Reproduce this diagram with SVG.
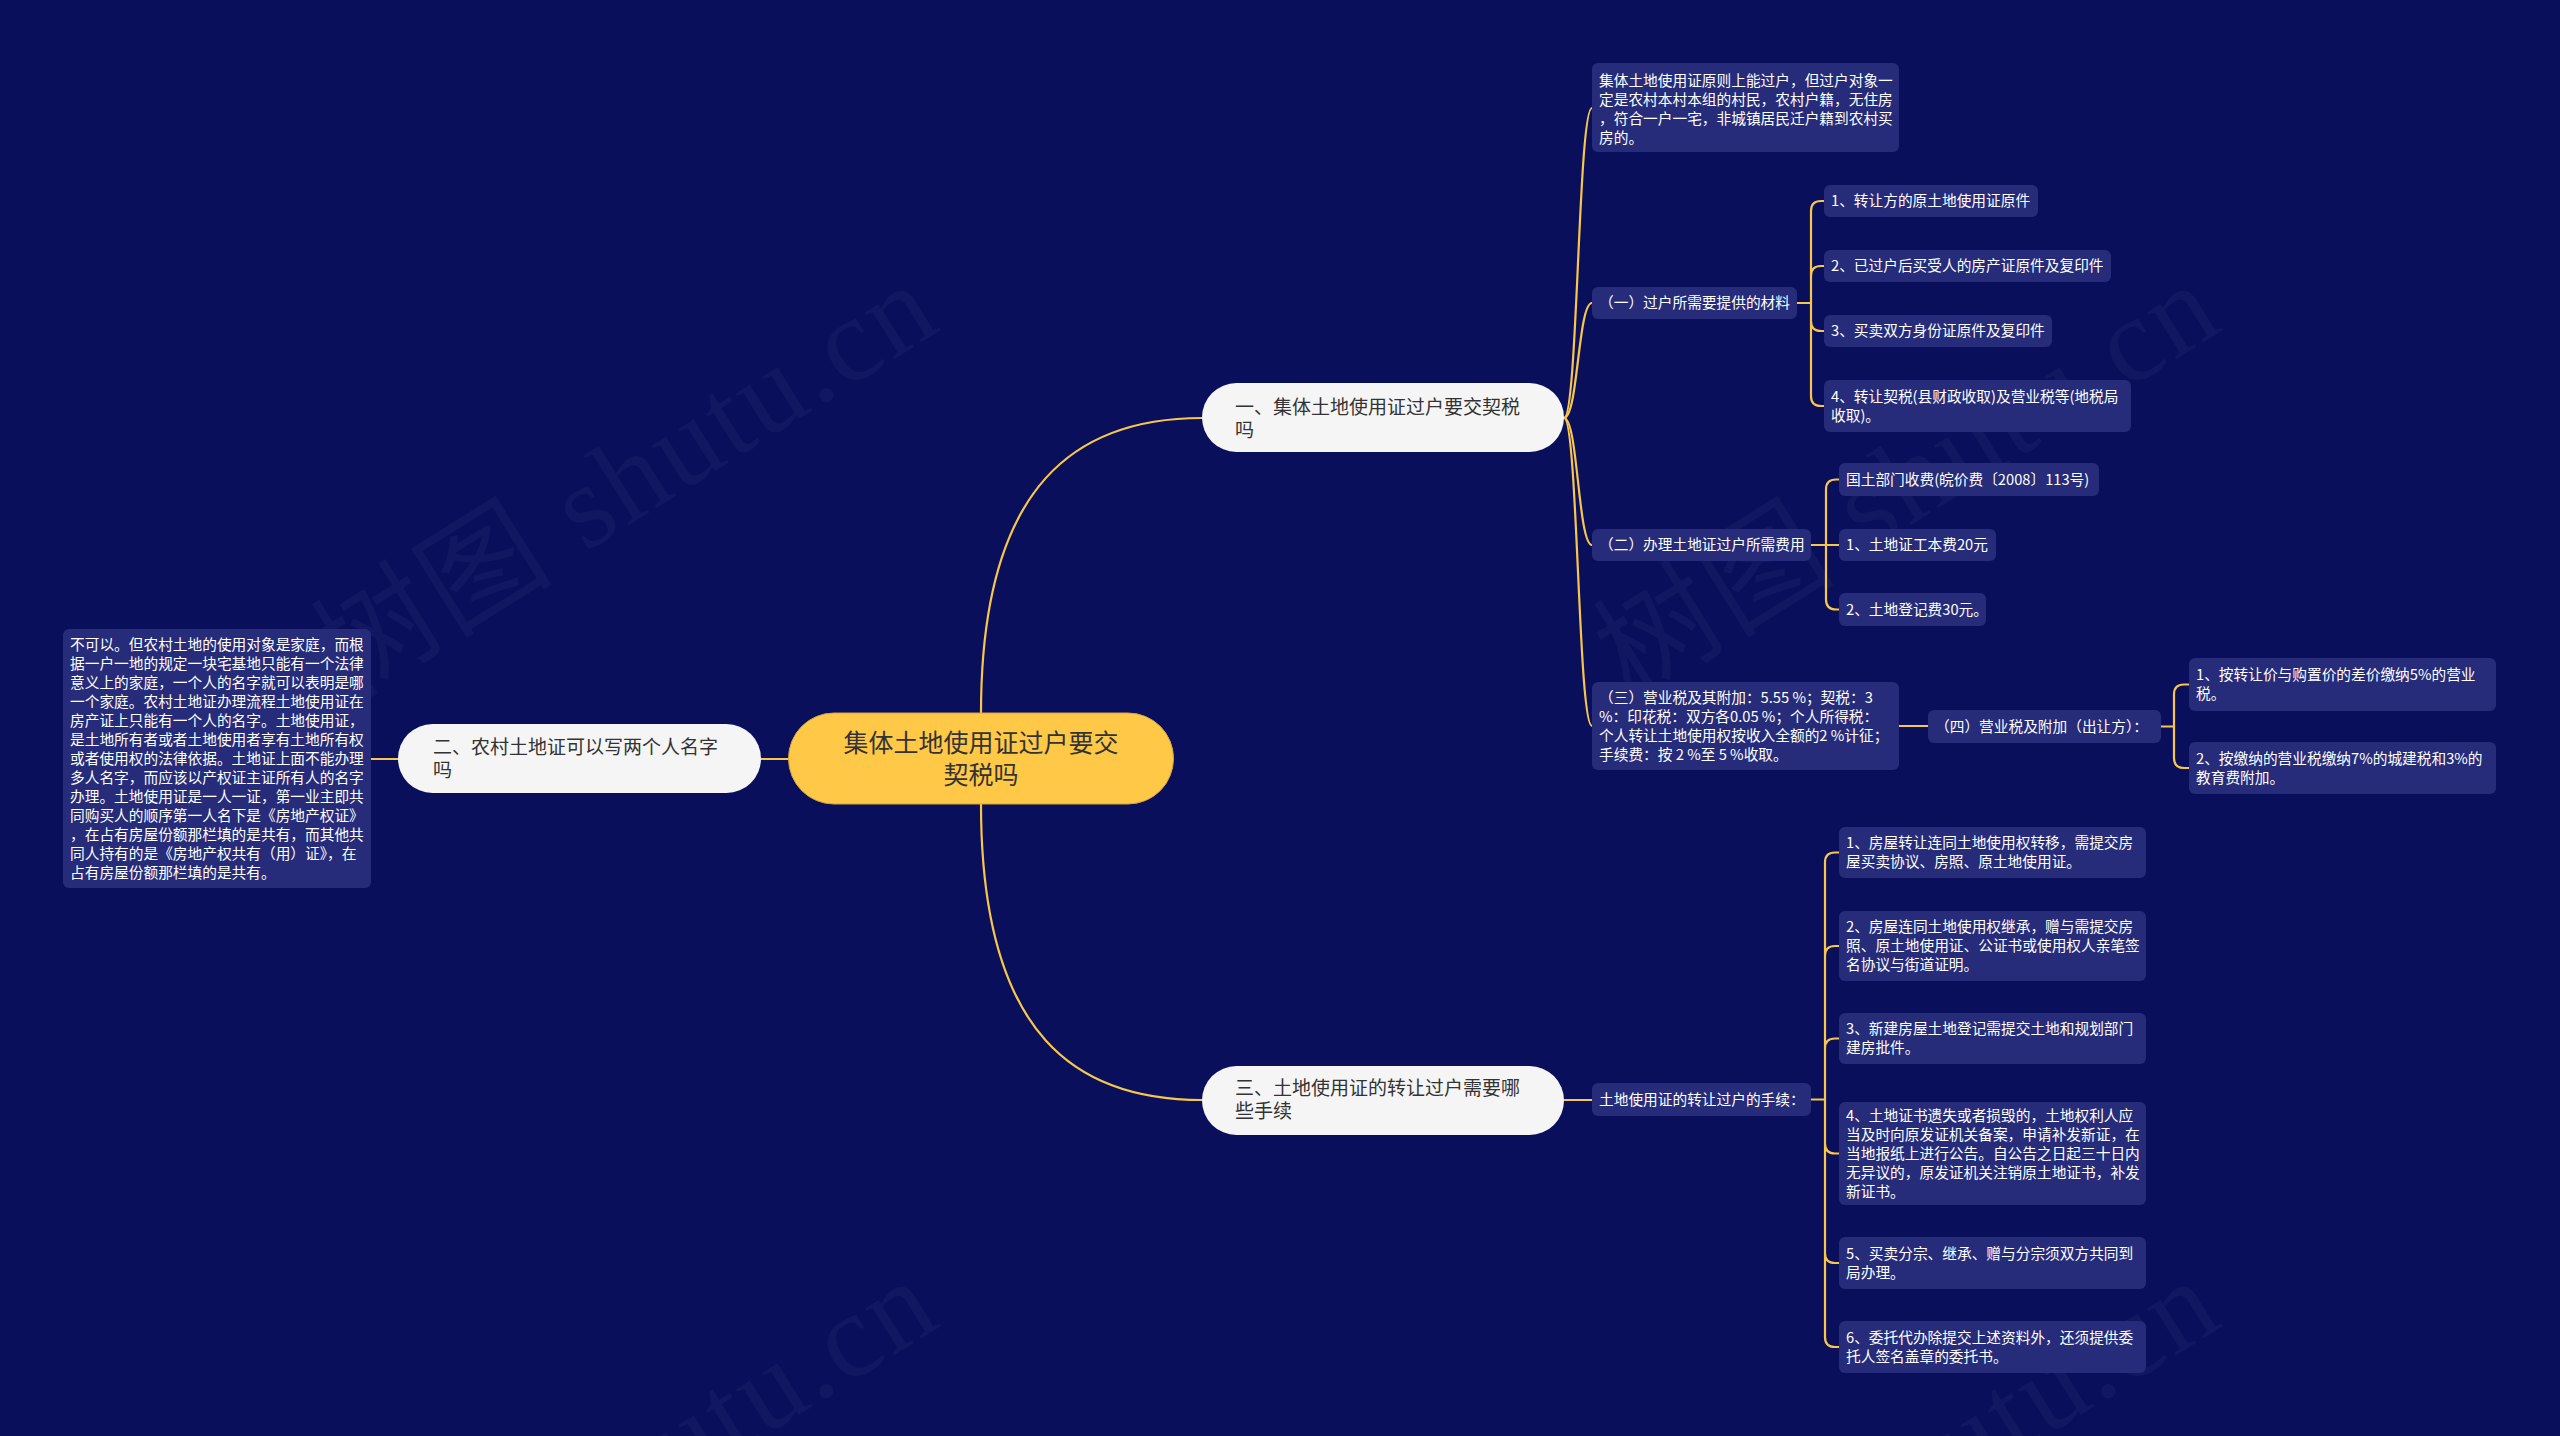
<svg xmlns="http://www.w3.org/2000/svg" width="2560" height="1436" viewBox="0 0 2560 1436">
<style>
.bg{fill:#0a0f5c}
.wm{font-family:"Liberation Serif","Noto Sans CJK SC",serif;font-size:120px;fill:#ffffff;fill-opacity:0.035}
.root rect{fill:#ffc847;stroke:#d9a63a;stroke-width:1}
.root text{font-family:"Noto Sans CJK SC","Noto Sans",sans-serif;font-size:25px;fill:#333333;text-anchor:middle}
.l1 rect{fill:#f5f5f5}
.l1 text{font-family:"Noto Sans CJK SC","Noto Sans",sans-serif;font-size:19px;fill:#333333}
.bx rect{fill:#262c7a}
.bx text{font-family:"Noto Sans CJK SC","Noto Sans",sans-serif;font-size:14.7px;fill:#ffffff}
.c path{fill:none;stroke:#f7c64c;stroke-width:2.2;stroke-linecap:round}
</style>
<rect class="bg" x="0" y="0" width="2560" height="1436"/>
<g id="watermarks">
<text class="wm" x="349" y="700" transform="rotate(-32 349 700)" textLength="700" lengthAdjust="spacing">树图 shutu.cn</text>
<text class="wm" x="1631" y="700" transform="rotate(-32 1631 700)" textLength="700" lengthAdjust="spacing">树图 shutu.cn</text>
<text class="wm" x="349" y="1696" transform="rotate(-32 349 1696)" textLength="700" lengthAdjust="spacing">树图 shutu.cn</text>
<text class="wm" x="1631" y="1696" transform="rotate(-32 1631 1696)" textLength="700" lengthAdjust="spacing">树图 shutu.cn</text>
</g>
<g id="connectors" class="c">
<path d="M981 713 C981 480 1080 418 1202 418"/>
<path d="M981 804 C981 1040 1080 1100 1202 1100"/>
<path d="M789 759 H761"/>
<path d="M398 759 H371"/>
<path d="M1564 418 C1578 418 1578 108 1592 108"/>
<path d="M1564 418 C1578 418 1578 303 1592 303"/>
<path d="M1564 418 C1578 418 1578 545 1592 545"/>
<path d="M1564 418 C1578 418 1578 726 1592 726"/>
<path d="M1797 303 H1811 M1811 303 V211 Q1811 201 1821 201 H1824 M1811 303 V276 Q1811 266 1821 266 H1824 M1811 303 V321 Q1811 331 1821 331 H1824 M1811 303 V396 Q1811 406 1821 406 H1824"/>
<path d="M1811 545 H1839 M1826 545 V489.5 Q1826 479.5 1836 479.5 H1839 M1826 545 V599.5 Q1826 609.5 1836 609.5 H1839"/>
<path d="M1899 726 H1928"/>
<path d="M2161 726.5 H2174 M2174 726.5 V694.5 Q2174 684.5 2184 684.5 H2189 M2174 726.5 V758 Q2174 768 2184 768 H2189"/>
<path d="M1564 1100 H1592"/>
<path d="M1811 1099.5 H1825 M1825 1099.5 V862.5 Q1825 852.5 1835 852.5 H1839 M1825 1099.5 V956 Q1825 946 1835 946 H1839 M1825 1099.5 V1048.5 Q1825 1038.5 1835 1038.5 H1839 M1825 1099.5 V1143.5 Q1825 1153.5 1835 1153.5 H1839 M1825 1099.5 V1253 Q1825 1263 1835 1263 H1839 M1825 1099.5 V1337 Q1825 1347 1835 1347 H1839"/>
</g>
<g id="root" class="root">
<rect x="788.5" y="713" width="385" height="91" rx="45.5"/>
<text x="981" y="752">集体土地使用证过户要交</text>
<text x="981" y="784">契税吗</text>
</g>
<g id="n1" class="l1">
<rect x="1202" y="383" width="362" height="69" rx="34.5"/>
<text x="1235" y="414">一、集体土地使用证过户要交契税</text>
<text x="1235" y="437">吗</text>
</g>
<g id="n2" class="l1">
<rect x="398" y="724" width="363" height="69" rx="34.5"/>
<text x="433" y="754">二、农村土地证可以写两个人名字</text>
<text x="433" y="777">吗</text>
</g>
<g id="n3" class="l1">
<rect x="1202" y="1066" width="362" height="69" rx="34.5"/>
<text x="1235" y="1095">三、土地使用证的转让过户需要哪</text>
<text x="1235" y="1118">些手续</text>
</g>
<g id="n1a" class="bx">
<rect x="1592" y="63" width="307" height="89" rx="6"/>
<text x="1599" y="86">集体土地使用证原则上能过户，但过户对象一</text>
<text x="1599" y="105">定是农村本村本组的村民，农村户籍，无住房</text>
<text x="1599" y="124">，符合一户一宅，非城镇居民迁户籍到农村买</text>
<text x="1599" y="143">房的。</text>
</g>
<g id="n1b" class="bx">
<rect x="1592" y="287" width="205" height="32" rx="6"/>
<text x="1599" y="308">（一）过户所需要提供的材料</text>
</g>
<g id="n1b1" class="bx">
<rect x="1824" y="185" width="214" height="32" rx="6"/>
<text x="1831" y="206">1、转让方的原土地使用证原件</text>
</g>
<g id="n1b2" class="bx">
<rect x="1824" y="250" width="287" height="32" rx="6"/>
<text x="1831" y="271">2、已过户后买受人的房产证原件及复印件</text>
</g>
<g id="n1b3" class="bx">
<rect x="1824" y="315" width="228" height="32" rx="6"/>
<text x="1831" y="336">3、买卖双方身份证原件及复印件</text>
</g>
<g id="n1b4" class="bx">
<rect x="1824" y="380" width="307" height="52" rx="6"/>
<text x="1831" y="401.5">4、转让契税(县财政收取)及营业税等(地税局</text>
<text x="1831" y="420.5">收取)。</text>
</g>
<g id="n1c" class="bx">
<rect x="1592" y="529" width="219" height="32" rx="6"/>
<text x="1599" y="550">（二）办理土地证过户所需费用</text>
</g>
<g id="n1c1" class="bx">
<rect x="1839" y="463" width="260" height="33" rx="6"/>
<text x="1846" y="484.5">国土部门收费(皖价费〔2008〕113号)</text>
</g>
<g id="n1c2" class="bx">
<rect x="1839" y="529" width="157" height="32" rx="6"/>
<text x="1846" y="550">1、土地证工本费20元</text>
</g>
<g id="n1c3" class="bx">
<rect x="1839" y="593" width="147" height="33" rx="6"/>
<text x="1846" y="614.5">2、土地登记费30元。</text>
</g>
<g id="n1d" class="bx">
<rect x="1592" y="682" width="307" height="88" rx="6"/>
<text x="1599" y="702.5">（三）营业税及其附加：5.55 %；契税：3</text>
<text x="1599" y="721.5">%：印花税：双方各0.05 %；个人所得税：</text>
<text x="1599" y="740.5">个人转让土地使用权按收入全额的2 %计征；</text>
<text x="1599" y="759.5">手续费：按 2 %至 5 %收取。</text>
</g>
<g id="n1d1" class="bx">
<rect x="1928" y="710" width="233" height="33" rx="6"/>
<text x="1935" y="731.5">（四）营业税及附加（出让方）：</text>
</g>
<g id="n1d1a" class="bx">
<rect x="2189" y="658" width="307" height="53" rx="6"/>
<text x="2196" y="680">1、按转让价与购置价的差价缴纳5%的营业</text>
<text x="2196" y="699">税。</text>
</g>
<g id="n1d1b" class="bx">
<rect x="2189" y="742" width="307" height="52" rx="6"/>
<text x="2196" y="763.5">2、按缴纳的营业税缴纳7%的城建税和3%的</text>
<text x="2196" y="782.5">教育费附加。</text>
</g>
<g id="n2a" class="bx">
<rect x="63" y="629" width="308" height="259" rx="6"/>
<text x="70" y="649.5">不可以。但农村土地的使用对象是家庭，而根</text>
<text x="70" y="668.5">据一户一地的规定一块宅基地只能有一个法律</text>
<text x="70" y="687.5">意义上的家庭，一个人的名字就可以表明是哪</text>
<text x="70" y="706.5">一个家庭。农村土地证办理流程土地使用证在</text>
<text x="70" y="725.5">房产证上只能有一个人的名字。土地使用证，</text>
<text x="70" y="744.5">是土地所有者或者土地使用者享有土地所有权</text>
<text x="70" y="763.5">或者使用权的法律依据。土地证上面不能办理</text>
<text x="70" y="782.5">多人名字，而应该以产权证主证所有人的名字</text>
<text x="70" y="801.5">办理。土地使用证是一人一证，第一业主即共</text>
<text x="70" y="820.5">同购买人的顺序第一人名下是《房地产权证》</text>
<text x="70" y="839.5">，在占有房屋份额那栏填的是共有，而其他共</text>
<text x="70" y="858.5">同人持有的是《房地产权共有（用）证》，在</text>
<text x="70" y="877.5">占有房屋份额那栏填的是共有。</text>
</g>
<g id="n3a" class="bx">
<rect x="1592" y="1083" width="219" height="33" rx="6"/>
<text x="1599" y="1104.5">土地使用证的转让过户的手续：</text>
</g>
<g id="n3a1" class="bx">
<rect x="1839" y="827" width="307" height="51" rx="6"/>
<text x="1846" y="848">1、房屋转让连同土地使用权转移，需提交房</text>
<text x="1846" y="867">屋买卖协议、房照、原土地使用证。</text>
</g>
<g id="n3a2" class="bx">
<rect x="1839" y="911" width="307" height="70" rx="6"/>
<text x="1846" y="932">2、房屋连同土地使用权继承，赠与需提交房</text>
<text x="1846" y="951">照、原土地使用证、公证书或使用权人亲笔签</text>
<text x="1846" y="970">名协议与街道证明。</text>
</g>
<g id="n3a3" class="bx">
<rect x="1839" y="1013" width="307" height="51" rx="6"/>
<text x="1846" y="1034">3、新建房屋土地登记需提交土地和规划部门</text>
<text x="1846" y="1053">建房批件。</text>
</g>
<g id="n3a4" class="bx">
<rect x="1839" y="1102" width="307" height="103" rx="6"/>
<text x="1846" y="1120.5">4、土地证书遗失或者损毁的，土地权利人应</text>
<text x="1846" y="1139.5">当及时向原发证机关备案，申请补发新证，在</text>
<text x="1846" y="1158.5">当地报纸上进行公告。自公告之日起三十日内</text>
<text x="1846" y="1177.5">无异议的，原发证机关注销原土地证书，补发</text>
<text x="1846" y="1196.5">新证书。</text>
</g>
<g id="n3a5" class="bx">
<rect x="1839" y="1237" width="307" height="52" rx="6"/>
<text x="1846" y="1258.5">5、买卖分宗、继承、赠与分宗须双方共同到</text>
<text x="1846" y="1277.5">局办理。</text>
</g>
<g id="n3a6" class="bx">
<rect x="1839" y="1321" width="307" height="52" rx="6"/>
<text x="1846" y="1342.5">6、委托代办除提交上述资料外，还须提供委</text>
<text x="1846" y="1361.5">托人签名盖章的委托书。</text>
</g>
</svg>
